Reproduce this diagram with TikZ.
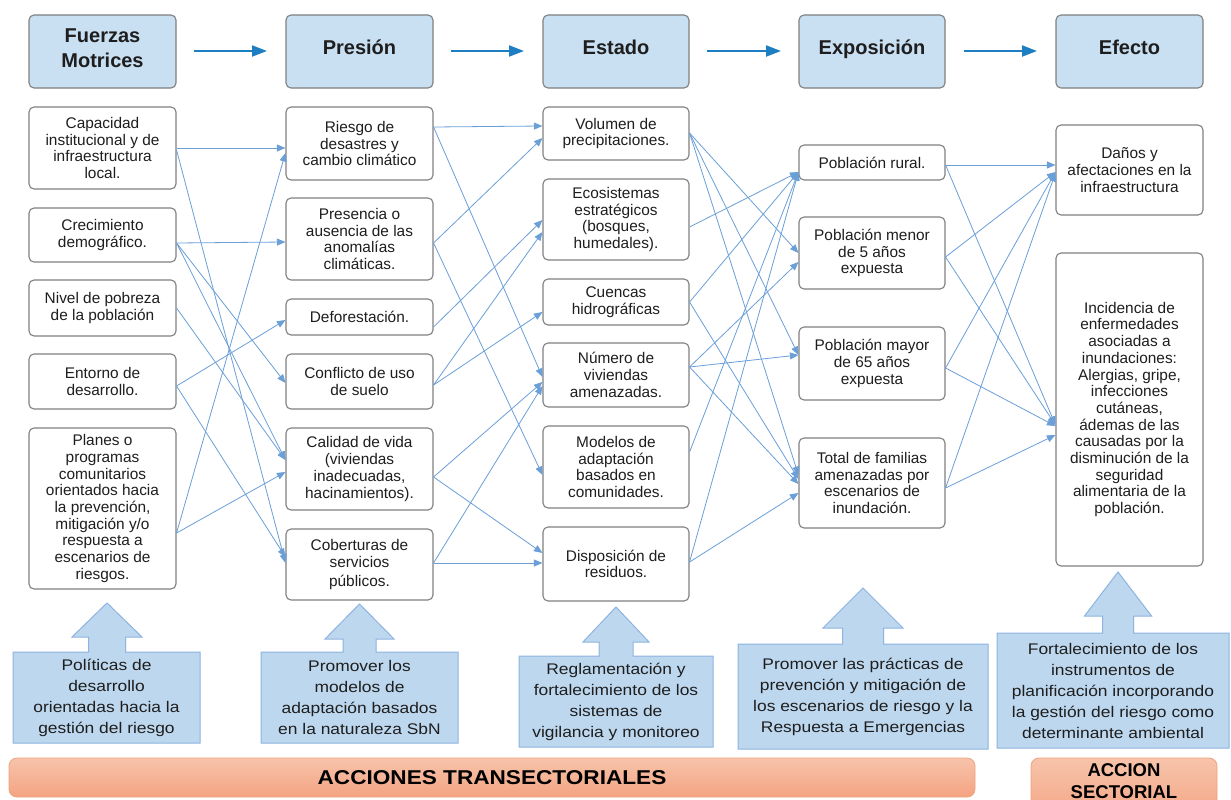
\documentclass[tikz,border=0pt]{standalone}
\usepackage{fontspec}
\setmainfont{Liberation Sans}
\newfontfamily\widefont[FakeStretch=1.13]{Liberation Sans}
\usetikzlibrary{arrows.meta,calc}

\definecolor{hdrfill}{HTML}{C9DFF2}
\definecolor{boxline}{HTML}{808080}
\definecolor{connc}{HTML}{6A9FD8}
\definecolor{hdrarrow}{HTML}{1E7EC2}
\definecolor{blockfill}{HTML}{BDD7EE}
\definecolor{blockline}{HTML}{8DB3E0}
\definecolor{orangetop}{HTML}{F7C4AB}
\definecolor{orangebot}{HTML}{F4A381}
\definecolor{orangeline}{HTML}{EFA27C}
\definecolor{txt}{HTML}{1E1E1E}

\tikzset{
  box/.style={draw=boxline, line width=1.1pt, rounded corners=5pt, fill=white,
    align=center, inner sep=0pt, text=txt, font=\fontsize{15.4}{16.7}\selectfont},
  hdr/.style={box, fill=hdrfill},
  hdrtext/.style={align=center, inner sep=0pt, text=txt, font=\fontsize{20}{25}\selectfont\bfseries},
  conn/.style={draw=connc, line width=0.8pt, -{Triangle[length=8.5pt,width=7pt]}},
  hdrarr/.style={draw=hdrarrow, line width=2pt, -{Triangle[length=15pt,width=11pt]}},
  blk/.style={draw=blockline, line width=1pt, fill=blockfill},
  blktext/.style={align=center, text=txt, inner sep=0pt, font=\widefont\fontsize{15.4}{21}\selectfont},
  obar/.style={draw=orangeline, line width=0.8pt, rounded corners=8pt, top color=orangetop, bottom color=orangebot},
  obartext/.style={align=center, text=black, inner sep=0pt},
}

\newcommand\blkarrow[9]{% left,right,top,bottom,tipx,tipy,headbase,headhalf,stemhalf
  \draw[blk] (#1,#4) -- (#1,#3) -- ({#5-#9},#3) -- ({#5-#9},#7) -- ({#5-#8},#7) -- (#5,#6)
    -- ({#5+#8},#7) -- ({#5+#9},#7) -- ({#5+#9},#3) -- (#2,#3) -- (#2,#4) -- cycle;}

\begin{document}
\begin{tikzpicture}[x=1pt,y=-1pt]
\path[use as bounding box] (0,0) rectangle (1231,800);
\clip (0,0) rectangle (1231,800);
\fill[white] (0,0) rectangle (1231,800);

% headers
\node[hdr, minimum width=147pt, minimum height=73pt] (h1) at (102.5,51.5) {};
\node[hdr, minimum width=147pt, minimum height=73pt] (h2) at (359.5,51.5) {};
\node[hdr, minimum width=146pt, minimum height=73pt] (h3) at (616,51.5) {};
\node[hdr, minimum width=146pt, minimum height=73pt] (h4) at (872,51.5) {};
\node[hdr, minimum width=147pt, minimum height=73pt] (h5) at (1129.5,51.5) {};
\node[hdrtext] (h1t) at (102.5,48) {Fuerzas\\Motrices};
\node[hdrtext, anchor=base] (h2t) at (359.5,55) {Presión};
\node[hdrtext, anchor=base] (h3t) at (616,55) {Estado};
\node[hdrtext, anchor=base] (h4t) at (872,55) {Exposición};
\node[hdrtext, anchor=base] (h5t) at (1129.5,55) {Efecto};

\coordinate (a1s) at (194,51); \coordinate (a1e) at (267,51);
\coordinate (a2s) at (451,51); \coordinate (a2e) at (524,51);
\coordinate (a3s) at (707,51); \coordinate (a3e) at (781,51);
\coordinate (a4s) at (964,51); \coordinate (a4e) at (1037,51);
\draw[hdrarr] (a1s) -- (a1e);
\draw[hdrarr] (a2s) -- (a2e);
\draw[hdrarr] (a3s) -- (a3e);
\draw[hdrarr] (a4s) -- (a4e);

% column 1
\node[box, minimum width=147pt, minimum height=82pt] (cap) at (102.5,148) {Capacidad\\institucional y de\\infraestructura\\local.};
\node[box, minimum width=147pt, minimum height=54pt] (crec) at (102.5,235) {Crecimiento\\demográfico.};
\node[box, minimum width=147pt, minimum height=56pt] (niv) at (102.5,308) {Nivel de pobreza\\de la población};
\node[box, minimum width=147pt, minimum height=55pt] (ent) at (102.5,381.5) {Entorno de\\desarrollo.};
\node[box, minimum width=147pt, minimum height=161pt] (plan) at (102.5,508.5) {Planes o\\programas\\comunitarios\\orientados hacia\\la prevención,\\mitigación y/o\\respuesta a\\escenarios de\\riesgos.};

% column 2
\node[box, minimum width=147pt, minimum height=73pt] (rie) at (359.5,143.5) {Riesgo de\\desastres y\\cambio climático};
\node[box, minimum width=147pt, minimum height=82pt] (pres) at (359.5,239) {Presencia o\\ausencia de las\\anomalías\\climáticas.};
\node[box, minimum width=147pt, minimum height=36pt] (def) at (359.5,317) {Deforestación.};
\node[box, minimum width=147pt, minimum height=55pt] (conf) at (359.5,381.5) {Conflicto de uso\\de suelo};
\node[box, minimum width=147pt, minimum height=82pt] (cal) at (359.5,469) {Calidad de vida\\(viviendas\\inadecuadas,\\hacinamientos).};
\node[box, minimum width=147pt, minimum height=71pt] (cob) at (359.5,564.5) {Coberturas de\\servicios\\[2.5pt]públicos.};

% column 3
\node[box, minimum width=146pt, minimum height=53pt] (vol) at (616,133.5) {Volumen de\\precipitaciones.};
\node[box, minimum width=146pt, minimum height=81pt] (eco) at (616,219.5) {Ecosistemas\\estratégicos\\(bosques,\\humedales).};
\node[box, minimum width=146pt, minimum height=46pt] (cue) at (616,302) {Cuencas\\hidrográficas};
\node[box, minimum width=146pt, minimum height=64pt] (num) at (616,375) {Número de\\viviendas\\amenazadas.};
\node[box, minimum width=146pt, minimum height=82pt] (mod) at (616,467) {Modelos de\\adaptación\\basados en\\comunidades.};
\node[box, minimum width=146pt, minimum height=74pt] (dis) at (616,564) {Disposición de\\residuos.};

% column 4
\node[box, minimum width=146pt, minimum height=35pt] (rur) at (872,162.5) {Población rural.};
\node[box, minimum width=146pt, minimum height=72pt] (men) at (872,253) {Población menor\\de 5 años\\expuesta};
\node[box, minimum width=146pt, minimum height=73pt] (may) at (872,363.5) {Población mayor\\de 65 años\\expuesta};
\node[box, minimum width=146pt, minimum height=90pt] (tot) at (872,483) {Total de familias\\amenazadas por\\escenarios de\\inundación.};

% column 5
\node[box, minimum width=147pt, minimum height=90pt] (dan) at (1129.5,170) {Daños y\\afectaciones en la\\infraestructura};
\node[box, minimum width=147pt, minimum height=313pt] (inc) at (1129.5,409.5) {Incidencia de\\enfermedades\\asociadas a\\inundaciones:\\Alergias, gripe,\\infecciones\\cutáneas,\\ádemas de las\\causadas por la\\disminución de la\\seguridad\\alimentaria de la\\población.};

% gap 1
\draw[conn] (cap.east |- 0,148) -- (rie.west |- 0,148);
\draw[conn] (cap.east |- 0,150) -- (cob.west |- 0,563);
\draw[conn] (crec.east |- 0,243) -- (pres.west |- 0,242);
\draw[conn] (crec.east |- 0,243) -- (conf.west |- 0,383);
\draw[conn] (crec.east |- 0,243) -- (cal.west |- 0,460);
\draw[conn] (niv.east |- 0,308) -- (cal.west |- 0,460);
\draw[conn] (ent.east |- 0,386) -- (def.west |- 0,320);
\draw[conn] (ent.east |- 0,386) -- (cob.west |- 0,557);
\draw[conn] (plan.east |- 0,533) -- (rie.west |- 0,153);
\draw[conn] (plan.east |- 0,533) -- (cal.west |- 0,472);

% gap 2
\draw[conn] (rie.east |- 0,127) -- (vol.west |- 0,126);
\draw[conn] (rie.east |- 0,127) -- (num.west |- 0,377);
\draw[conn] (pres.east |- 0,243) -- (vol.west |- 0,138);
\draw[conn] (pres.east |- 0,243) -- (mod.west |- 0,475);
\draw[conn] (def.east |- 0,327) -- (eco.west |- 0,220);
\draw[conn] (conf.east |- 0,385) -- (eco.west |- 0,232);
\draw[conn] (conf.east |- 0,385) -- (cue.west |- 0,312);
\draw[conn] (cal.east |- 0,477) -- (num.west |- 0,382);
\draw[conn] (cal.east |- 0,477) -- (dis.west |- 0,553);
\draw[conn] (cob.east |- 0,563) -- (num.west |- 0,386);
\draw[conn] (cob.east |- 0,563) -- (dis.west |- 0,563);

% gap 3
\draw[conn] (vol.east |- 0,133) -- (men.west |- 0,253);
\draw[conn] (vol.east |- 0,133) -- (may.west |- 0,355);
\draw[conn] (vol.east |- 0,133) -- (tot.west |- 0,475);
\draw[conn] (eco.east |- 0,227) -- (rur.west |- 0,172);
\draw[conn] (cue.east |- 0,302) -- (rur.west |- 0,172);
\draw[conn] (cue.east |- 0,302) -- (tot.west |- 0,479);
\draw[conn] (num.east |- 0,367) -- (men.west |- 0,262);
\draw[conn] (num.east |- 0,367) -- (may.west |- 0,355);
\draw[conn] (num.east |- 0,367) -- (tot.west |- 0,484);
\draw[conn] (mod.east |- 0,452) -- (rur.west |- 0,172);
\draw[conn] (dis.east |- 0,562) -- (rur.west |- 0,172);
\draw[conn] (dis.east |- 0,562) -- (tot.west |- 0,493);

% gap 4
\draw[conn] (rur.east |- 0,165) -- (dan.west |- 0,165);
\draw[conn] (rur.east |- 0,165) -- (inc.west |- 0,425);
\draw[conn] (men.east |- 0,257) -- (dan.west |- 0,172);
\draw[conn] (men.east |- 0,257) -- (inc.west |- 0,425);
\draw[conn] (may.east |- 0,368) -- (dan.west |- 0,172);
\draw[conn] (may.east |- 0,368) -- (inc.west |- 0,426);
\draw[conn] (tot.east |- 0,488) -- (dan.west |- 0,173);
\draw[conn] (tot.east |- 0,488) -- (inc.west |- 0,435);

% block arrows
\blkarrow{13}{200}{652}{743}{107}{603}{637}{35}{18.5}
\blkarrow{261}{458}{652}{743}{359.5}{604}{639}{34.5}{16.5}
\blkarrow{519}{713}{656}{747}{616}{607}{642}{33}{17}
\blkarrow{738}{988}{644}{749}{863}{588}{628}{40}{20.5}
\blkarrow{997}{1229}{633}{748}{1118}{572}{616}{33.5}{15.5}

\node[blktext] (b1) at (106.5,697.5) {Políticas de\\desarrollo\\orientadas hacia la\\gestión del riesgo};
\node[blktext] (b2) at (359.5,697.5) {Promover los\\modelos de\\adaptación basados\\en la naturaleza SbN};
\node[blktext] (b3) at (616,701.5) {Reglamentación y\\fortalecimiento de los\\sistemas de\\vigilancia y monitoreo};
\node[blktext] (b4) at (863,696.5) {Promover las prácticas de\\prevención y mitigación de\\los escenarios de riesgo y la\\Respuesta a Emergencias};
\node[blktext] (b5) at (1113,690.5) {Fortalecimiento de los\\instrumentos de\\planificación incorporando\\la gestión del riesgo como\\determinante ambiental};

% orange bars
\path[obar] (9,758) rectangle (975,797);
\node[obartext, font=\widefont\fontsize{20}{24}\selectfont\bfseries] (acct) at (492,778) {ACCIONES TRANSECTORIALES};
\path[obar] (1031,758) rectangle (1217,822);
\node[obartext, font=\fontsize{18.5}{22}\selectfont\bfseries] (accs) at (1124,781) {ACCION\\SECTORIAL};
\end{tikzpicture}
\end{document}
